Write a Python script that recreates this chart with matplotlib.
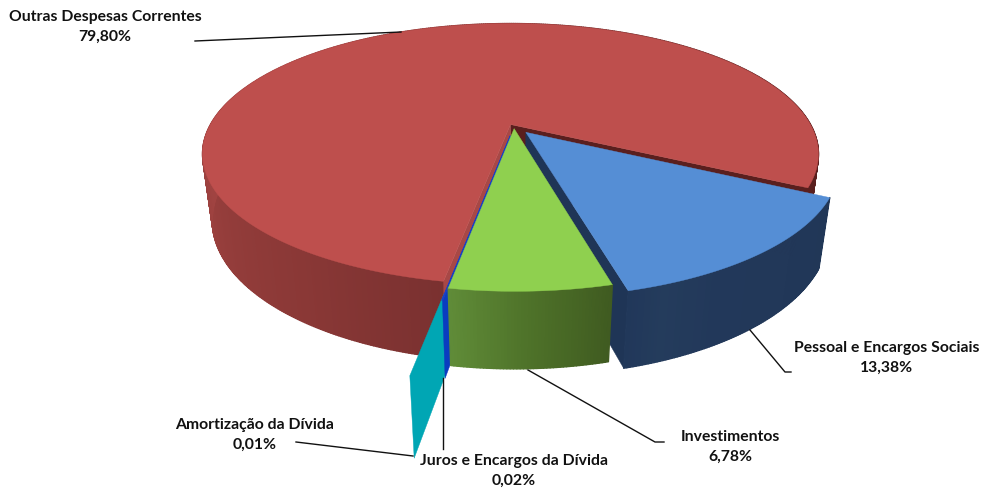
import numpy as np
import matplotlib
matplotlib.use("Agg")
from matplotlib import pyplot as plt
from matplotlib.collections import PolyCollection
from matplotlib.colors import to_rgb

plt.rcParams['font.family'] = ['Lato', 'DejaVu Sans']

# valores do grafico (%)
labels = ["Outras Despesas Correntes", "Pessoal e Encargos Sociais", "Investimentos",
          "Juros e Encargos da Dívida", "Amortização da Dívida"]
values = [79.80, 13.38, 6.78, 0.02, 0.01]

# explosao de cada fatia: quanto sai e em que direcao (graus, horario a partir do topo)
explode = [0.0, 0.08, 0.035, 0.09, 0.41]
explode_dir = [0.0, 141.0, 160.0, 180.0, 188.0]
start_angle = 190.0

top_colors = ["#BE4F4D", "#558ED5", "#8FD04F", "#1A3FC4", "#00A6B4"]
cut_colors = ["#A84846", "#1F3556", "#3F5A20", "#0A3CC0", "#00A6B4"]

# projecao em perspectiva do disco para a figura em pixels
cx, cy, a, b, k, m, d = 510.5, 124.5, 300.0, 123.8, 0.226, 0.031, 67.0


def project(u, v, z):
    w = 1 + k * v + m * z
    return cx + a * u / w, cy + (-b * v + d * z) / w


def rim(th, off, z):
    t = np.radians(th)
    return project(np.sin(t) + off[0], np.cos(t) + off[1], z)


def wall(ax, th, off, stops):
    ang, cols = zip(*stops)
    rgb = np.array([to_rgb(c) for c in cols])
    x0, y0 = rim(th, off, 0)
    x1, y1 = rim(th, off, 1)
    quads = []
    fc = []
    for i in range(len(th) - 1):
        quads.append([(x0[i], y0[i]), (x0[i + 1], y0[i + 1]), (x1[i + 1], y1[i + 1]), (x1[i], y1[i])])
        mid = (th[i] + th[i + 1]) / 2
        fc.append([np.interp(mid, ang, rgb[:, j]) for j in range(3)])
    ax.add_collection(PolyCollection(quads, facecolors=fc, edgecolors=fc, linewidths=1.0))


def cut(ax, t, off, color):
    ax0, ay0 = project(off[0], off[1], 0)
    ax1, ay1 = project(off[0], off[1], 1)
    x0, y0 = rim(np.array([t]), off, 0)
    x1, y1 = rim(np.array([t]), off, 1)
    ax.fill([ax0, x0[0], x1[0], ax1], [ay0, y0[0], y1[0], ay1], color=color, lw=0.3)


def top(ax, th, off, color, lw=0.3):
    xs, ys = rim(th, off, 0)
    ax0, ay0 = project(off[0], off[1], 0)
    ax.fill(np.r_[ax0, xs], np.r_[ay0, ys], color=color, lw=lw)


fig = plt.figure(figsize=(9.82, 4.88), dpi=100)
ax = fig.add_axes([0, 0, 1, 1])
ax.set_xlim(0, 982)
ax.set_ylim(488, 0)
ax.axis("off")

total = sum(values)
spans = [v / total * 360 for v in values]
begin = start_angle + np.r_[0, np.cumsum(spans)[:-1]]
offs = [(e * np.sin(np.radians(t)), e * np.cos(np.radians(t))) for e, t in zip(explode, explode_dir)]
angs = [np.linspace(s, s + sp, max(int(sp * 2), 2) + 1) for s, sp in zip(begin, spans)]

# vermelho: parede, teal por cima da parede, depois corte e topo
red_end = begin[0] + spans[0]
wall(ax, angs[0], offs[0], [(190, "#7A3130"), (215, "#8A3836"), (265, "#A04341"), (300, "#A84644"),
                            (440, "#5A1F1E"), (480, "#5A1F1E")])
cut(ax, red_end - 360, offs[0], "#5A1F1E")
cut(ax, begin[4], offs[4], cut_colors[4])
cut(ax, begin[0], offs[0], cut_colors[0])
top(ax, angs[0], offs[0], top_colors[0])

# juros: fatia quase sem largura, so aparece o corte
cut(ax, begin[3], offs[3], cut_colors[3])
top(ax, angs[3], offs[3], top_colors[3], lw=1.0)

# azul
cut(ax, begin[1] + spans[1], offs[1], cut_colors[1])
wall(ax, angs[1], offs[1], [(477, "#213757"), (510, "#22385A"), (520, "#243C5C"), (526, "#21375A")])
top(ax, angs[1], offs[1], top_colors[1])

# verde
wall(ax, angs[2], offs[2], [(525, "#3F5A20"), (538, "#4E7229"), (550, "#608C38")])
top(ax, angs[2], offs[2], top_colors[2])

# linhas de chamada
ax.plot([195, 401], [41, 32], color="#111111", lw=1)
ax.plot([750, 785, 791], [330, 372, 372], color="#111111", lw=1)
ax.plot([528, 655, 664], [370, 442, 442], color="#111111", lw=1)
ax.plot([296, 413], [442, 456], color="#111111", lw=1)
ax.plot([443, 443], [378, 449], color="#111111", lw=1)

# rotulos
pct = [f"{v:.2f}".replace(".", ",") + "%" for v in values]
pos = [(105, 27), (887, 358), (730, 447), (514, 471), (255, 435)]
for lab, p, (x, y) in zip(labels, pct, pos):
    ax.text(x, y, lab + "\n" + p, ha="center", va="center", fontsize=11.3, fontweight="bold",
            color="#111111", linespacing=1.5)

fig.savefig("out.png", dpi=100)
